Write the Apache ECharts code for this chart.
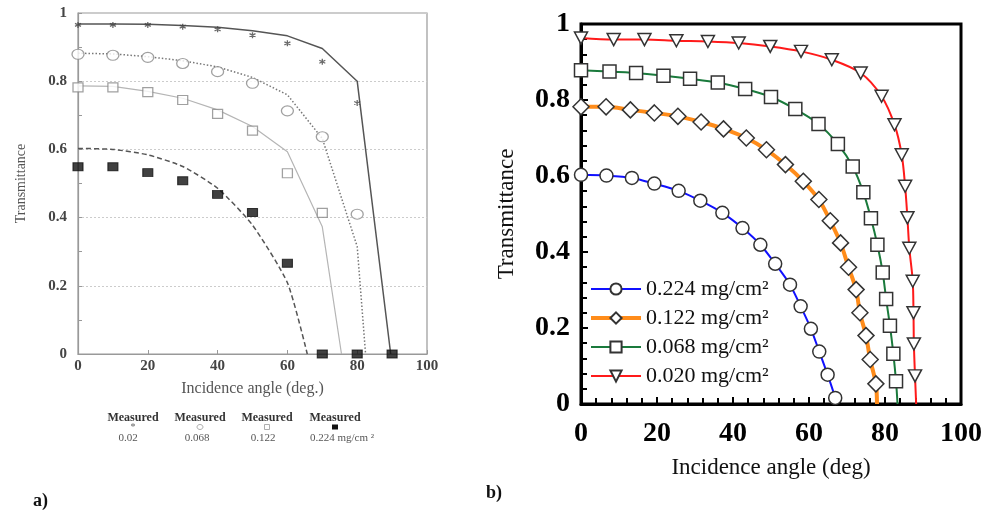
<!DOCTYPE html>
<html><head><meta charset="utf-8">
<script src="https://cdn.jsdelivr.net/npm/echarts@6/dist/echarts.min.js"></script>
<style>html,body{margin:0;padding:0;background:#fff}#c{width:988px;height:516px}</style>
</head><body><div id="c"></div>
<script>
// ---------- Panel a ----------
const angleA = [0, 10, 20, 30, 40, 50, 60, 70, 80, 90];
const measA_020 = [0.965, 0.965, 0.965, 0.960, 0.952, 0.935, 0.911, 0.857, 0.736];
const measA_068 = [0.879, 0.876, 0.870, 0.852, 0.828, 0.794, 0.713, 0.637, 0.410];
const measA_122 = [0.782, 0.782, 0.768, 0.745, 0.704, 0.655, 0.530, 0.414];
const measA_224 = [0.549, 0.549, 0.532, 0.508, 0.468, 0.415, 0.266, 0, 0, 0];
const modelA_020_x = [0, 10, 20, 30, 40, 50, 60, 70, 80, 89.6];
const modelA_020_y = [0.968, 0.968, 0.967, 0.963, 0.958, 0.948, 0.933, 0.896, 0.800, 0];
const modelA_068_x = [0, 10, 20, 30, 40, 50, 60, 70, 80, 82.4];
const modelA_068_y = [0.882, 0.880, 0.872, 0.860, 0.842, 0.811, 0.760, 0.632, 0.315, 0];
const modelA_122_x = [0, 10, 20, 30, 40, 50, 60, 70, 75.5];
const modelA_122_y = [0.786, 0.785, 0.770, 0.750, 0.716, 0.667, 0.593, 0.373, 0];
const modelA_224_x = [0, 10, 20, 30, 40, 50, 60, 65.7];
const modelA_224_y = [0.603, 0.600, 0.584, 0.550, 0.486, 0.378, 0.209, 0];
const legendA_top = ['Measured', 'Measured', 'Measured', 'Measured'];
const legendA_bottom = ['0.02', '0.068', '0.122', '0.224 mg/cm \u00b2'];

// ---------- Panel b ----------
const b224_x = [0, 6.7, 13.4, 19.3, 25.7, 31.4, 37.2, 42.5, 47.2, 51.1, 55.0, 57.8, 60.5, 62.7, 64.9, 66.9, 67.1];
const b224_y = [0.603, 0.601, 0.595, 0.580, 0.561, 0.535, 0.503, 0.463, 0.419, 0.369, 0.314, 0.257, 0.198, 0.138, 0.077, 0.016, 0];
const b122_x = [0, 6.6, 13.0, 19.3, 25.5, 31.6, 37.5, 43.5, 48.8, 53.8, 58.5, 62.6, 65.6, 68.3, 70.4, 72.4, 73.4, 75.0, 76.1, 77.6, 77.9];
const b122_y = [0.782, 0.782, 0.774, 0.766, 0.757, 0.742, 0.724, 0.700, 0.669, 0.630, 0.586, 0.538, 0.482, 0.424, 0.360, 0.301, 0.240, 0.180, 0.117, 0.053, 0];
const b068_x = [0, 7.5, 14.5, 21.7, 28.7, 36.0, 43.2, 50.0, 56.4, 62.5, 67.6, 71.5, 74.3, 76.3, 78.0, 79.4, 80.3, 81.3, 82.2, 82.9, 83.3];
const b068_y = [0.878, 0.875, 0.871, 0.864, 0.856, 0.846, 0.829, 0.808, 0.776, 0.737, 0.684, 0.625, 0.557, 0.489, 0.419, 0.346, 0.276, 0.206, 0.132, 0.060, 0];
const b020_x = [0, 8.6, 16.7, 25.1, 33.4, 41.5, 49.8, 57.9, 66.0, 73.6, 79.1, 82.5, 84.4, 85.3, 85.9, 86.4, 87.3, 87.5, 87.6, 87.9, 88.2];
const b020_y = [0.963, 0.959, 0.959, 0.956, 0.954, 0.950, 0.941, 0.928, 0.906, 0.871, 0.810, 0.735, 0.656, 0.573, 0.490, 0.410, 0.323, 0.240, 0.158, 0.074, 0];
const namesB = ['0.224 mg/cm\u00b2', '0.122 mg/cm\u00b2', '0.068 mg/cm\u00b2', '0.020 mg/cm\u00b2'];
const colorsB = ['#1010ff', '#ff8c1a', '#1a7a3c', '#ff1a1a'];
const widthsB = [2, 4, 2, 2];

const serif = "'Liberation Serif', 'DejaVu Serif', serif";
const star = 'path://M5,0 L5,10 M0,2.5 L10,7.5 M0,7.5 L10,2.5';
const triDown = 'path://M0,0 L10,0 L5,9 Z';

function pairs(xs, ys) { return ys.map((y, i) => [xs[i], y]); }
function lastNoSymbol(xs, ys) {
  return ys.map((y, i) => i === ys.length - 1 ? { value: [xs[i], y], symbol: 'none' } : [xs[i], y]);
}

const chart = echarts.init(document.getElementById('c'), null, { renderer: 'canvas' });

const grayTxt = '#444';
const option = {
  backgroundColor: '#fff',
  animation: false,
  grid: [
    { left: 78, top: 13, width: 349, height: 341, show: true, borderColor: '#999', borderWidth: 1.2, backgroundColor: 'transparent' },
    { left: 581, top: 24, width: 380, height: 380, show: true, borderColor: '#000', borderWidth: 3, backgroundColor: 'transparent' }
  ],
  xAxis: [
    {
      gridIndex: 0, type: 'value', min: 0, max: 100, interval: 20,
      name: 'Incidence angle (deg.)', nameLocation: 'middle', nameGap: 27,
      nameTextStyle: { fontFamily: serif, fontSize: 16, color: '#555' },
      axisLine: { lineStyle: { color: '#999', width: 1.2 } },
      axisTick: { inside: true, length: 4, lineStyle: { color: '#999' } },
      axisLabel: { fontFamily: serif, fontSize: 15, fontWeight: 'bold', color: grayTxt, margin: 5 },
      splitLine: { show: false }
    },
    {
      gridIndex: 1, type: 'value', min: 0, max: 100, interval: 20,
      name: 'Incidence angle (deg)', nameLocation: 'middle', nameGap: 52,
      nameTextStyle: { fontFamily: serif, fontSize: 23, color: '#111' },
      axisLine: { lineStyle: { color: '#000', width: 3 } },
      axisTick: { inside: true, length: 7, lineStyle: { color: '#000', width: 2 } },
      minorTick: { show: true, splitNumber: 5, length: 6, lineStyle: { color: '#000', width: 2 } },
      axisLabel: { fontFamily: serif, fontSize: 28, fontWeight: 'bold', color: '#000', margin: 16 },
      splitLine: { show: false }
    }
  ],
  yAxis: [
    {
      gridIndex: 0, type: 'value', min: 0, max: 1, interval: 0.2,
      name: 'Transmittance', nameLocation: 'middle', nameGap: 50,
      nameTextStyle: { fontFamily: serif, fontSize: 14, color: '#555' },
      axisLine: { lineStyle: { color: '#999', width: 1.2 } },
      axisTick: { inside: true, length: 4, lineStyle: { color: '#999' } },
      minorTick: { show: true, splitNumber: 2, length: 4, lineStyle: { color: '#999' } },
      axisLabel: { fontFamily: serif, fontSize: 15, fontWeight: 'bold', color: grayTxt, margin: 11 },
      splitLine: { show: true, lineStyle: { color: '#ccc', type: [2, 2], width: 1 } }
    },
    {
      gridIndex: 1, type: 'value', min: 0, max: 1, interval: 0.2,
      name: 'Transmittance', nameLocation: 'middle', nameGap: 63,
      nameTextStyle: { fontFamily: serif, fontSize: 23, color: '#111' },
      axisLine: { lineStyle: { color: '#000', width: 3 } },
      axisTick: { inside: true, length: 7, lineStyle: { color: '#000', width: 2 } },
      minorTick: { show: true, splitNumber: 5, length: 6, lineStyle: { color: '#000', width: 2 } },
      axisLabel: { fontFamily: serif, fontSize: 28, fontWeight: 'bold', color: '#000', margin: 11 },
      splitLine: { show: false }
    }
  ],
  legend: {
    data: namesB.map((n, i) => ({ name: n, lineStyle: { color: colorsB[i], width: widthsB[i] } })),
    orient: 'vertical', left: 589, top: 278, padding: 0,
    itemWidth: 50, itemHeight: 14, itemGap: 7,
    textStyle: { fontFamily: serif, fontSize: 22, color: '#111', lineHeight: 22 },
    inactiveColor: '#111'
  },
  series: [
    // panel a models
    { type: 'line', xAxisIndex: 0, yAxisIndex: 0, data: pairs(modelA_020_x, modelA_020_y), showSymbol: false, symbol: 'none', lineStyle: { color: '#555', width: 1.5 }, z: 2 },
    { type: 'line', xAxisIndex: 0, yAxisIndex: 0, data: pairs(modelA_068_x, modelA_068_y), showSymbol: false, symbol: 'none', lineStyle: { color: '#777', width: 1.5, type: [1.5, 2] }, z: 2 },
    { type: 'line', xAxisIndex: 0, yAxisIndex: 0, data: pairs(modelA_122_x, modelA_122_y), showSymbol: false, symbol: 'none', lineStyle: { color: '#b5b5b5', width: 1.2 }, z: 2 },
    { type: 'line', xAxisIndex: 0, yAxisIndex: 0, data: pairs(modelA_224_x, modelA_224_y), showSymbol: false, symbol: 'none', smooth: 0.2, lineStyle: { color: '#555', width: 1.5, type: [5, 3] }, z: 2 },
    // panel a measured
    { type: 'scatter', xAxisIndex: 0, yAxisIndex: 0, data: pairs(angleA, measA_020), symbol: star, symbolSize: 6, itemStyle: { color: 'none', borderColor: '#444', borderWidth: 1.3 }, z: 3 },
    { type: 'scatter', xAxisIndex: 0, yAxisIndex: 0, data: pairs(angleA, measA_068), symbol: 'circle', symbolSize: [12, 10], itemStyle: { color: '#fff', borderColor: '#888', borderWidth: 1.2 }, z: 3 },
    { type: 'scatter', xAxisIndex: 0, yAxisIndex: 0, data: pairs(angleA, measA_122), symbol: 'rect', symbolSize: [10, 9], itemStyle: { color: '#fff', borderColor: '#888', borderWidth: 1.2 }, z: 3 },
    { type: 'scatter', xAxisIndex: 0, yAxisIndex: 0, data: pairs(angleA, measA_224), symbol: 'rect', symbolSize: [10, 8], itemStyle: { color: '#111', borderColor: '#111', borderWidth: 1 }, z: 4 },
    // panel b
    { name: namesB[0], type: 'line', xAxisIndex: 1, yAxisIndex: 1, data: lastNoSymbol(b224_x, b224_y), smooth: 0.3, symbol: 'circle', symbolSize: 13, showAllSymbol: true,
      lineStyle: { color: colorsB[0], width: widthsB[0] }, itemStyle: { color: '#fff', borderColor: '#333', borderWidth: 1.5 }, z: 5 },
    { name: namesB[1], type: 'line', xAxisIndex: 1, yAxisIndex: 1, data: lastNoSymbol(b122_x, b122_y), smooth: 0.3, symbol: 'diamond', symbolSize: 16, showAllSymbol: true,
      lineStyle: { color: colorsB[1], width: widthsB[1] }, itemStyle: { color: '#fff', borderColor: '#333', borderWidth: 1.5 }, z: 5 },
    { name: namesB[2], type: 'line', xAxisIndex: 1, yAxisIndex: 1, data: lastNoSymbol(b068_x, b068_y), smooth: 0.3, symbol: 'rect', symbolSize: 13, showAllSymbol: true,
      lineStyle: { color: colorsB[2], width: widthsB[2] }, itemStyle: { color: '#fff', borderColor: '#333', borderWidth: 1.5 }, z: 5 },
    { name: namesB[3], type: 'line', xAxisIndex: 1, yAxisIndex: 1, data: lastNoSymbol(b020_x, b020_y), smooth: 0.3, symbol: triDown, symbolSize: [13, 12], showAllSymbol: true,
      lineStyle: { color: colorsB[3], width: widthsB[3] }, itemStyle: { color: '#fff', borderColor: '#333', borderWidth: 1.5 }, z: 5 }
  ],
  graphic: [
    { type: 'text', left: 33, top: 492, style: { text: 'a)', font: "bold 18px 'Liberation Serif'", fill: '#111' } },
    { type: 'text', left: 486, top: 484, style: { text: 'b)', font: "bold 18px 'Liberation Serif'", fill: '#111' } }
  ]
};

// panel a legend (measured markers)
const legX = [133, 200, 267, 335];
const valX = [128, 197, 263, 310];
legendA_top.forEach((t, i) => {
  option.graphic.push({ type: 'text', x: legX[i], y: 418, style: { text: t, font: "bold 12px 'Liberation Serif'", fill: '#333', align: 'center', verticalAlign: 'middle' } });
  option.graphic.push({ type: 'text', x: valX[i], y: 438, style: { text: legendA_bottom[i], font: "11px 'Liberation Serif'", fill: '#555', align: i === 3 ? 'left' : 'center', verticalAlign: 'middle' } });
});
option.graphic.push({ type: 'text', x: 133, y: 427, style: { text: '*', font: "10px 'Liberation Serif'", fill: '#666', align: 'center', verticalAlign: 'middle' } });
option.graphic.push({ type: 'ellipse', shape: { cx: 200, cy: 427, rx: 3, ry: 2.5 }, style: { fill: '#fff', stroke: '#999', lineWidth: 0.8 } });
option.graphic.push({ type: 'rect', shape: { x: 264.5, y: 424.5, width: 5, height: 5 }, style: { fill: '#fff', stroke: '#999', lineWidth: 0.8 } });
option.graphic.push({ type: 'rect', shape: { x: 332, y: 424.5, width: 6, height: 5 }, style: { fill: '#111' } });

chart.setOption(option);
</script>
</body></html>
